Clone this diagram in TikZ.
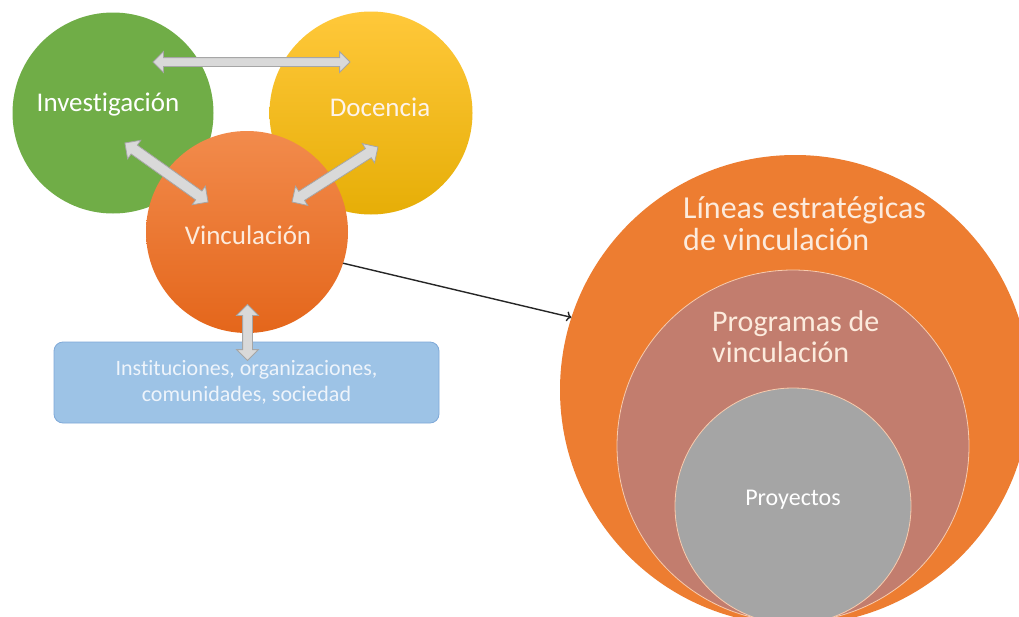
\documentclass[tikz,border=0pt]{standalone}
\usepackage{fontspec}
\setmainfont{Carlito}[Ligatures={NoCommon,NoRequired,NoContextual}]
\usetikzlibrary{shapes.arrows,arrows.meta}
\definecolor{cgreen}{HTML}{70AD47}
\definecolor{cyeltop}{HTML}{FFC83A}
\definecolor{cyelbot}{HTML}{E6AE07}
\definecolor{corgtop}{HTML}{F28B4C}
\definecolor{corgbot}{HTML}{E4661B}
\definecolor{cbig}{HTML}{ED7D31}
\definecolor{cmid}{HTML}{C27D6E}
\definecolor{cgray}{HTML}{A5A5A5}
\definecolor{cpeach}{HTML}{F8CBAD}
\definecolor{carrfill}{HTML}{D9D9D9}
\definecolor{carrdraw}{HTML}{A6A6A6}
\definecolor{cboxfill}{HTML}{9DC3E6}
\definecolor{cboxdraw}{HTML}{7FA9D8}
\definecolor{ctxtorg}{HTML}{FCEBDD}
\definecolor{ctxtbox}{HTML}{EEF4FB}
\tikzset{
  disc/.style={circle, inner sep=0pt, outer sep=0pt, minimum size=#1},
  lbl/.style={text=white, inner sep=0pt, font=\fontsize{27}{32}\selectfont},
  grayarrow/.style={double arrow, draw=carrdraw, fill=carrfill, line width=0.8pt,
     inner xsep=0pt, inner ysep=#1, double arrow head extend=6pt, outer sep=0pt},
}
\begin{document}
\begin{tikzpicture}[x=1pt,y=-1pt]
\useasboundingbox (0,0) rectangle (1019,616);
\fill[white] (0,0) rectangle (1019,616);
% right nested circles
\begin{scope}
\clip (0,0) rectangle (1019,616);
\node[disc=470pt, fill=cbig] (big) at (795,390) {};
\node[disc=352pt, fill=cmid, draw=cpeach, line width=0.8pt] (mid) at (793,446) {};
\node[disc=236pt, fill=cgray, draw=cpeach, line width=0.8pt] (inner) at (793,506) {};
\end{scope}
\node[anchor=west, align=left, text=ctxtorg, inner sep=0pt,
      font=\fontsize{32}{32}\selectfont] (tlin) at (683,224) {Líneas estratégicas\\de vinculación};
\node[anchor=west, align=left, text=ctxtorg, inner sep=0pt,
      font=\fontsize{30}{31}\selectfont] (tprog) at (712,337) {Programas de\\vinculación};
\node[text=white, inner sep=0pt, font=\fontsize{24}{28}\selectfont] (tproy) at (793,500) {Proyectos};
% left circles
\node[disc=201pt, fill=cgreen] (inv) at (113,113) {};
\node[disc=203pt, top color=cyeltop, bottom color=cyelbot] (doc) at (371,113) {};
\node[disc=202pt, top color=corgtop, bottom color=corgbot] (vin) at (247,232) {};
\node[lbl] (tinv) at (108,105) {Investigación};
\node[lbl, text=ctxtorg!60!white] (tdoc) at (380,107) {Docencia};
\node[lbl, text=ctxtorg] (tvin) at (248,235) {Vinculación};
% blue box
\node[draw=cboxdraw, fill=cboxfill, line width=0.8pt, rounded corners=9pt,
      minimum width=385pt, minimum height=81pt, inner sep=0pt, text=ctxtbox,
      align=center, font=\fontsize{22}{26}\selectfont] (box) at (246.5,382.5)
      {Instituciones, organizaciones,\\comunidades, sociedad};
% gray double arrows
\node[grayarrow=4pt, minimum height=197pt] (a1) at (251.5,62) {};
\node[grayarrow=5pt, minimum height=102pt, rotate=-35.4] (a2) at (166.5,172.5) {};
\node[grayarrow=5pt, minimum height=102pt, rotate=32.6] (a3) at (335,174.5) {};
\node[grayarrow=4.5pt, minimum height=56pt, rotate=90] (a4) at (247.5,332.5) {};
% black connector
\draw[line width=1.4pt, color=black!85, -{To[length=5pt,width=10pt]}] (vin.-18) -- (big.162);
\end{tikzpicture}
\end{document}
